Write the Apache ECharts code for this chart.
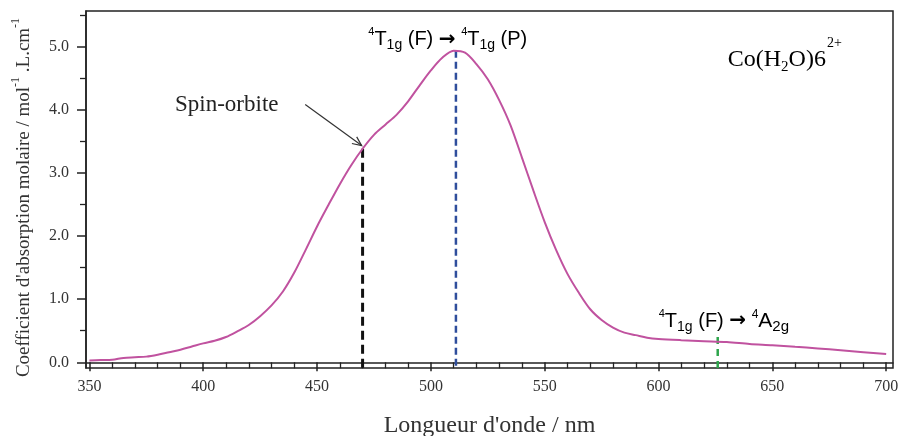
<!DOCTYPE html>
<html>
<head>
<meta charset="utf-8">
<script src="https://cdn.jsdelivr.net/npm/echarts@6/dist/echarts.min.js"></script>
<style>html,body{margin:0;padding:0;background:#fff}#c{width:903px;height:436px}</style>
</head>
<body>
<div id="c"></div>
<script>
// Wavelength (nm) and molar absorption coefficient
const wavelength = [350,355,360,365,370,375,380,385,390,395,400,405,410,415,420,425,430,435,440,445,450,455,460,465,470,475,480,485,490,495,500,505,510,515,520,525,530,535,540,545,550,555,560,565,570,575,580,585,590,595,600,610,620,630,640,650,660,670,680,690,700];
const absorbance = [0.03,0.035,0.04,0.07,0.08,0.09,0.12,0.16,0.2,0.25,0.3,0.34,0.4,0.49,0.59,0.73,0.9,1.12,1.42,1.78,2.15,2.49,2.82,3.12,3.38,3.6,3.76,3.92,4.13,4.38,4.62,4.82,4.93,4.9,4.72,4.48,4.15,3.75,3.24,2.72,2.22,1.78,1.4,1.1,0.84,0.67,0.55,0.47,0.43,0.39,0.37,0.35,0.335,0.32,0.29,0.27,0.245,0.22,0.19,0.16,0.13];
const xMajorTicks = [350,400,450,500,550,600,650,700];
const xMinorTicks = [360,370,380,390,410,420,430,440,460,470,480,490,510,520,530,540,560,570,580,590,610,620,630,640,660,670,680,690];
const yMajorTicks = [0,1,2,3,4,5];
const yMinorTicks = [0.5,1.5,2.5,3.5,4.5,5.5];
// Transition markers (wavelength, top value)
const spinOrbit = [470, 3.38];
const peakT1gP = [511, 4.93];
const bandA2g = [626, 0.40];
const axisBottom = -0.09;

const serif = '"Liberation Serif", "DejaVu Serif", serif';
const sans = '"Liberation Sans", "Open Sans", sans-serif';
const curveColor = '#C0529F';
const ink = '#222';

const chart = echarts.init(document.getElementById('c'), null, {renderer: 'canvas'});
const xr = {min: 348.5, max: 703};
const yr = {min: axisBottom, max: 5.56};

function dashSeries(p, color, width, dash) {
  return {type: 'line', data: [[p[0], p[1]], [p[0], axisBottom]], symbol: 'none', silent: true,
    lineStyle: {color: color, width: width, type: dash}, z: 1};
}

chart.setOption({
  animation: false,
  grid: {left: 86, right: 10, top: 11, bottom: 68, containLabel: false, outerBoundsMode: 'none',
    show: true, borderColor: ink, borderWidth: 1.5, backgroundColor: 'transparent'},
  xAxis: [
    {type: 'value', min: xr.min, max: xr.max, position: 'bottom',
      axisLine: {show: true, lineStyle: {color: ink, width: 1.5}},
      axisTick: {show: true, customValues: xMajorTicks, length: 9, lineStyle: {color: ink, width: 1.5}},
      axisLabel: {customValues: xMajorTicks, color: '#333', fontFamily: serif, fontSize: 16, margin: 11},
      splitLine: {show: false},
      name: 'Longueur d\'onde / nm', nameLocation: 'middle', nameGap: 46,
      nameTextStyle: {fontFamily: serif, fontSize: 24, color: '#333'}},
    {type: 'value', min: xr.min, max: xr.max, position: 'bottom',
      axisLine: {show: false}, axisLabel: {show: false}, splitLine: {show: false},
      axisTick: {show: true, customValues: xMinorTicks, length: 6, lineStyle: {color: ink, width: 1.3}}}
  ],
  yAxis: [
    {type: 'value', min: yr.min, max: yr.max, position: 'left',
      axisLine: {show: true, lineStyle: {color: ink, width: 1.5}},
      axisTick: {show: true, customValues: yMajorTicks, length: 9, lineStyle: {color: ink, width: 1.5}},
      axisLabel: {customValues: yMajorTicks, formatter: v => v.toFixed(1), color: '#333', fontFamily: serif, fontSize: 16, margin: 17},
      splitLine: {show: false},
      name: 'Coefficient d\'absorption molaire / mol{s|-1} .L.cm{s|-1}', nameLocation: 'middle', nameGap: 40, nameRotate: 90,
      nameTextStyle: {fontFamily: serif, fontSize: 19, color: '#333', lineHeight: 28, padding: [0, 16, 0, 0],
        rich: {s: {fontFamily: serif, fontSize: 12, color: '#333', verticalAlign: 'top', lineHeight: 12}}}},
    {type: 'value', min: yr.min, max: yr.max, position: 'left',
      axisLine: {show: false}, axisLabel: {show: false}, splitLine: {show: false},
      axisTick: {show: true, customValues: yMinorTicks, length: 6, lineStyle: {color: ink, width: 1.3}}}
  ],
  series: [
    dashSeries(spinOrbit, '#111', 3, [9, 5]),
    dashSeries(peakT1gP, '#2F4E9C', 2.5, [7, 4]),
    dashSeries(bandA2g, '#2DA54B', 2.5, [7, 5]),
    {type: 'line', data: wavelength.map((w, i) => [w, absorbance[i]]), symbol: 'none', smooth: 0.3,
      lineStyle: {color: curveColor, width: 2}, z: 3}
  ]
});

function px(w, v) { return chart.convertToPixel({xAxisIndex: 0, yAxisIndex: 0}, [w, v]); }

const richT = {
  t: {fontFamily: sans, fontSize: 20, color: '#111', lineHeight: 26},
  ar: {fontFamily: '"DejaVu Sans", sans-serif', fontSize: 20, fontWeight: 'bold', color: '#111', lineHeight: 26},
  sp: {fontFamily: sans, fontSize: 11, color: '#111', verticalAlign: 'top', lineHeight: 12},
  sb: {fontFamily: sans, fontSize: 14, color: '#111', verticalAlign: 'bottom', lineHeight: 14},
  bt: {fontFamily: sans, fontSize: 20, color: '#2F4E9C', lineHeight: 26},
  bsp: {fontFamily: sans, fontSize: 11, color: '#2F4E9C', verticalAlign: 'top', lineHeight: 12},
  bsb: {fontFamily: sans, fontSize: 14, color: '#2F4E9C', verticalAlign: 'bottom', lineHeight: 14},
  gt: {fontFamily: sans, fontSize: 21, color: '#2DA54B', lineHeight: 26},
  gsp: {fontFamily: sans, fontSize: 12, color: '#2DA54B', verticalAlign: 'top', lineHeight: 12},
  gsb: {fontFamily: sans, fontSize: 15, color: '#2DA54B', verticalAlign: 'bottom', lineHeight: 14},
  c: {fontFamily: serif, fontSize: 24, color: curveColor, lineHeight: 46},
  csb: {fontFamily: serif, fontSize: 15, color: curveColor, verticalAlign: 'bottom', lineHeight: 16, padding: [0, 0, 8, 0]},
  csp: {fontFamily: serif, fontSize: 14, color: curveColor, verticalAlign: 'top', lineHeight: 14, padding: [0, 0, 0, 1]}
};

const pLab1 = px(472.5, 5.11);
const pLab2 = px(600.1, 0.65);
const pCo = px(630.4, 4.79);
const pSpin = px(387.6, 4.08);
const a0 = px(444.8, 4.08);
const a1 = px(469.6, 3.43);
const ang = Math.atan2(a1[1] - a0[1], a1[0] - a0[0]);
const hl = 10, ha = 0.42;
const h1 = [a1[0] - hl * Math.cos(ang - ha), a1[1] - hl * Math.sin(ang - ha)];
const h2 = [a1[0] - hl * Math.cos(ang + ha), a1[1] - hl * Math.sin(ang + ha)];

chart.setOption({
  graphic: [
    {type: 'text', x: pLab1[0], y: pLab1[1], style: {text: '{sp|4}{t|T}{sb|1g}{t| (F) }{ar|→}{t| }{bsp|4}{bt|T}{bsb|1g}{bt| (P)}', rich: richT, align: 'left', verticalAlign: 'middle'}, z: 10},
    {type: 'text', x: pLab2[0], y: pLab2[1], style: {text: '{sp|4}{t|T}{sb|1g}{t| (F) }{ar|→}{t| }{gsp|4}{gt|A}{gsb|2g}', rich: richT, align: 'left', verticalAlign: 'middle'}, z: 10},
    {type: 'text', x: pCo[0], y: pCo[1], style: {text: '{c|Co(H}{csb|2}{c|O)6}{csp|2+}', rich: richT, align: 'left', verticalAlign: 'middle'}, z: 10},
    {type: 'text', x: pSpin[0], y: pSpin[1], style: {text: 'Spin-orbite', fontFamily: serif, fontSize: 23, fill: '#222', align: 'left', verticalAlign: 'middle'}, z: 10},
    {type: 'line', shape: {x1: a0[0], y1: a0[1], x2: a1[0], y2: a1[1]}, style: {stroke: '#333', lineWidth: 1.2}, z: 10},
    {type: 'polyline', shape: {points: [h1, a1, h2]}, style: {stroke: '#333', lineWidth: 1.2, fill: null}, z: 10}
  ]
});
</script>
</body>
</html>
